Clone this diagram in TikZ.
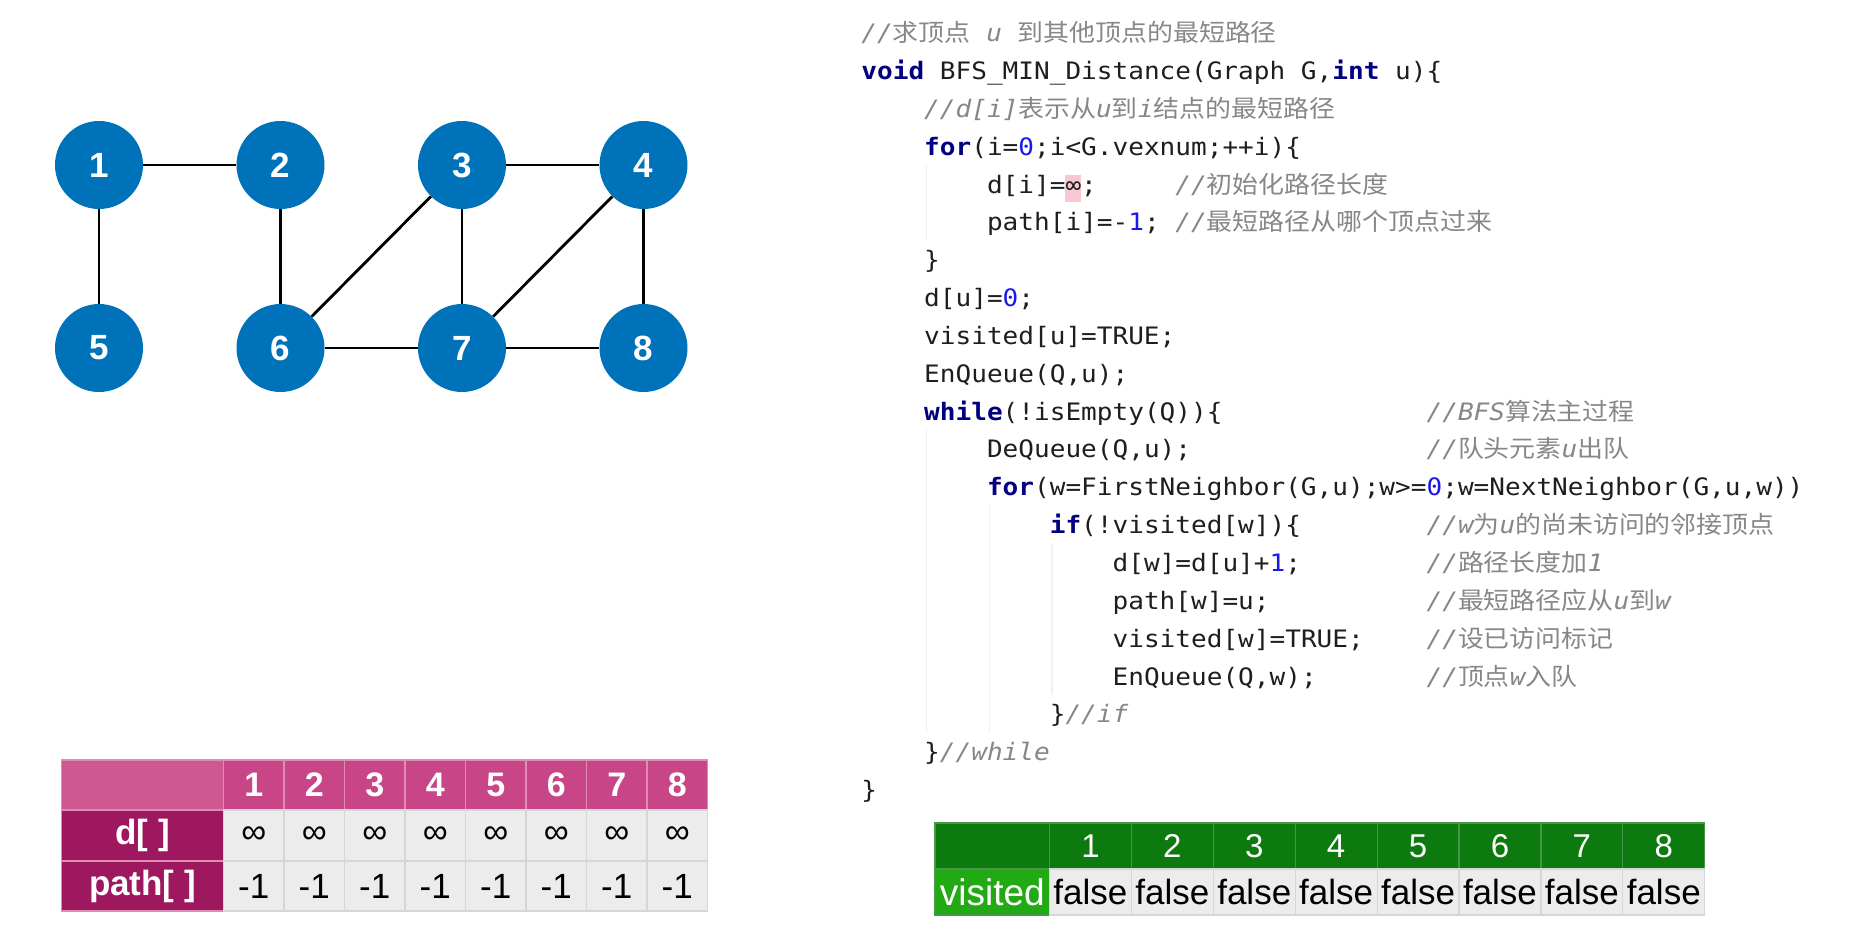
\documentclass[tikz,border=0pt]{standalone}
\usepackage{fontspec}
\setmainfont{Liberation Sans}
\newfontfamily\codefont[FakeStretch=1.0866]{DejaVu Sans Mono}
\newfontfamily\zhfont[FakeStretch=1.08]{Noto Sans CJK SC}
\newfontfamily\tabfont{Liberation Sans}

\definecolor{vblue}{RGB}{0,114,185}
\definecolor{codeink}{RGB}{30,30,30}
\definecolor{kwnavy}{RGB}{0,0,128}
\definecolor{numblue}{RGB}{25,25,235}
\definecolor{cmtgray}{RGB}{135,135,135}
\definecolor{hlpink}{RGB}{248,200,210}
\definecolor{guidegray}{RGB}{240,240,240}
\definecolor{pinkhead}{RGB}{200,70,135}
\definecolor{pinkfirst}{RGB}{206,88,146}
\definecolor{pinkline}{RGB}{222,140,180}
\definecolor{magrow}{RGB}{158,24,95}
\definecolor{cellgray}{RGB}{236,236,236}
\definecolor{cellline}{RGB}{214,214,214}
\definecolor{greenhead}{RGB}{12,122,14}
\definecolor{greenline}{RGB}{70,150,70}
\definecolor{greenvis}{RGB}{34,170,20}

% code highlighting helpers
\newcommand\kwd[1]{{\bfseries\color{kwnavy}#1}}
\newcommand\numc[1]{{\color{numblue}#1}}
\newcommand\cmnt[1]{{\color{cmtgray}\itshape #1}}
\newcommand\zhc[1]{{\zhfont\upshape #1}}

\begin{document}
\begin{tikzpicture}[x=1pt,y=-1pt,
  vtx/.style={circle, fill=vblue, minimum size=88pt, inner sep=0pt, text=white,
    font=\tabfont\bfseries\fontsize{35}{35}\selectfont},
  edge/.style={line width=2.8pt, black},
  code/.style={anchor=base west, inner sep=0pt, text=codeink,
    font=\codefont\fontsize{24}{24}\selectfont},
  guide/.style={guidegray, line width=1.2pt},
  pcell/.style={draw=cellline, line width=1.2pt, fill=cellgray, inner sep=0pt,
    minimum width=60.5pt, text=black, font=\tabfont\fontsize{35}{35}\selectfont},
  phead/.style={pcell, draw=pinkline, fill=pinkhead, text=white, minimum height=50pt,
    font=\tabfont\bfseries\fontsize{34}{34}\selectfont},
  prow/.style={pcell, draw=pinkline, fill=magrow, text=white, minimum width=162pt,
    font=\tabfont\bfseries\fontsize{35}{35}\selectfont},
  gcell/.style={draw=cellline, line width=1.2pt, fill=cellgray, inner sep=0pt,
    minimum width=81.9pt, minimum height=46pt, text=black,
    font=\tabfont\fontsize{35}{35}\selectfont},
  ghead/.style={gcell, draw=greenline, fill=greenhead, text=white,
    font=\tabfont\fontsize{33}{33}\selectfont},
]
\useasboundingbox (0,0) rectangle (1855,946);
\fill[white] (0,0) rectangle (1855,946);

% ---------------- graph ----------------
\node[vtx] (v1) at (99,165) {1};
\node[vtx] (v2) at (280.5,165) {2};
\node[vtx] (v3) at (462,165) {3};
\node[vtx] (v4) at (643.5,165) {4};
\node[vtx] (v5) at (99,348) {5};
\node[vtx] (v6) at (280.5,348) {6};
\node[vtx] (v7) at (462,348) {7};
\node[vtx] (v8) at (643.5,348) {8};
\draw[edge] (v1) -- (v2);
\draw[edge] (v1) -- (v5);
\draw[edge] (v2) -- (v6);
\draw[edge] (v3) -- (v4);
\draw[edge] (v3) -- (v7);
\draw[edge] (v3) -- (v6);
\draw[edge] (v4) -- (v7);
\draw[edge] (v4) -- (v8);
\draw[edge] (v6) -- (v7);
\draw[edge] (v7) -- (v8);

% ---------------- code ----------------
% indent guides
\draw[guide] (926.5,165) -- (926.5,241);
\draw[guide] (926.5,430) -- (926.5,733);
\draw[guide] (989.3,505.6) -- (989.3,733);
\draw[guide] (1052,543.5) -- (1052,695);
% highlight behind the infinity sign
\fill[hlpink] (1065.2,175) rectangle (1080.9,202);

\node[code] (c1) at (861.2,41.6) {\cmnt{//\zhc{求顶点}\ u\ \zhc{到其他顶点的最短路径}}};
\node[code] (c2) at (861.2,79.45) {\kwd{void} BFS\_MIN\_Distance(Graph G,\kwd{int} u)\{};
\node[code] (c3) at (924,117.3) {\cmnt{//d[i]\zhc{表示从}u\zhc{到}i\zhc{结点的最短路径}}};
\node[code] (c4) at (924,155.15) {\kwd{for}(i=\numc{0};i<G.vexnum;++i)\{};
\node[code] (c5) at (986.8,193) {d[i]=∞;};
\node[code] (m5) at (1175.2,193) {\cmnt{//\zhc{初始化路径长度}}};
\node[code] (c6) at (986.8,230.85) {path[i]=-\numc{1};};
\node[code] (m6) at (1175.2,230.85) {\cmnt{//\zhc{最短路径从哪个顶点过来}}};
\node[code] (c7) at (924,268.7) {\}};
\node[code] (c8) at (924,306.55) {d[u]=\numc{0};};
\node[code] (c9) at (924,344.4) {visited[u]=TRUE;};
\node[code] (c10) at (924,382.25) {EnQueue(Q,u);};
\node[code] (c11) at (924,420.1) {\kwd{while}(!isEmpty(Q))\{};
\node[code] (m11) at (1426.4,420.1) {\cmnt{//BFS\zhc{算法主过程}}};
\node[code] (c12) at (986.8,457.95) {DeQueue(Q,u);};
\node[code] (m12) at (1426.4,457.95) {\cmnt{//\zhc{队头元素}u\zhc{出队}}};
\node[code] (c13) at (986.8,495.8) {\kwd{for}(w=FirstNeighbor(G,u);w>=\numc{0};w=NextNeighbor(G,u,w))};
\node[code] (c14) at (1049.6,533.65) {\kwd{if}(!visited[w])\{};
\node[code] (m14) at (1426.4,533.65) {\cmnt{//w\zhc{为}u\zhc{的尚未访问的邻接顶点}}};
\node[code] (c15) at (1112.4,571.5) {d[w]=d[u]+\numc{1};};
\node[code] (m15) at (1426.4,571.5) {\cmnt{//\zhc{路径长度加}1}};
\node[code] (c16) at (1112.4,609.35) {path[w]=u;};
\node[code] (m16) at (1426.4,609.35) {\cmnt{//\zhc{最短路径应从}u\zhc{到}w}};
\node[code] (c17) at (1112.4,647.2) {visited[w]=TRUE;};
\node[code] (m17) at (1426.4,647.2) {\cmnt{//\zhc{设已访问标记}}};
\node[code] (c18) at (1112.4,685.05) {EnQueue(Q,w);};
\node[code] (m18) at (1426.4,685.05) {\cmnt{//\zhc{顶点}w\zhc{入队}}};
\node[code] (c19) at (1049.6,722.9) {\}\cmnt{//if}};
\node[code] (c20) at (924,760.75) {\}\cmnt{//while}};
\node[code] (c21) at (861.2,798.6) {\}};

% ---------------- d[] / path[] table ----------------
\node[phead, minimum width=162pt, fill=pinkfirst] (p00) at (142.5,785) {};
\foreach \i in {1,...,8}
  \node[phead] (p0\i) at ({193.25+60.5*\i},785) {\i};
\node[prow, minimum height=51pt] (p10) at (142.5,835.5) {d[ ]};
\foreach \i in {1,...,8}
  \node[pcell, minimum height=51pt] (p1\i) at ({193.25+60.5*\i},835.5) {∞};
\node[prow, minimum height=50pt] (p20) at (142.5,886) {path[ ]};
\foreach \i in {1,...,8}
  \node[pcell, minimum height=50pt] (p2\i) at ({193.25+60.5*\i},886) {-1};

% ---------------- visited table ----------------
\node[ghead, minimum width=114.5pt] (g00) at (992.25,846) {};
\foreach \i in {1,...,8}
  \node[ghead] (g0\i) at ({1008.55+81.9*\i},846) {\i};
\node[gcell, minimum width=114.5pt, fill=greenvis, draw=greenline, text=white,
  font=\tabfont\fontsize{37}{37}\selectfont] (g10) at (992.25,892) {visited};
\foreach \i in {1,...,8}
  \node[gcell] (g1\i) at ({1008.55+81.9*\i},892) {false};
\end{tikzpicture}
\end{document}
